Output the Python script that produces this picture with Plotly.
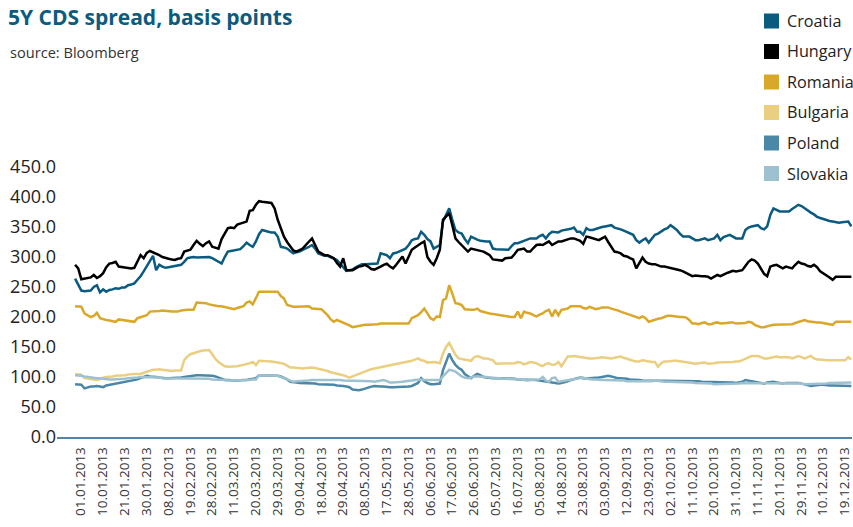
import plotly.graph_objects as go

countries = ["Croatia", "Hungary", "Romania", "Bulgaria", "Poland", "Slovakia"]
colors = ["#0b5b80", "#000000", "#d9a82a", "#eacf80", "#4b87a6", "#9ec1d0"]

tick_labels = ["01.01.2013", "10.01.2013", "21.01.2013", "30.01.2013", "08.02.2013", "19.02.2013",
               "28.02.2013", "11.03.2013", "20.03.2013", "29.03.2013", "09.04.2013", "18.04.2013",
               "29.04.2013", "08.05.2013", "17.05.2013", "28.05.2013", "06.06.2013", "17.06.2013",
               "26.06.2013", "05.07.2013", "16.07.2013", "05.08.2013", "14.08.2013", "23.08.2013",
               "03.09.2013", "12.09.2013", "23.09.2013", "02.10.2013", "11.10.2013", "20.10.2013",
               "31.10.2013", "11.11.2013", "20.11.2013", "29.11.2013", "10.12.2013", "19.12.2013"]

croatia = [264, 253, 244, 243, 244, 244, 250, 253, 241, 246,
           242, 245, 246, 248, 247, 249, 249, 253, 254, 256,
           262, 268, 276, 284, 293, 302, 278, 287, 284, 282,
           283, 284, 284, 286, 287, 292, 298, 299, 300, 299,
           299, 300, 300, 300, 298, 295, 292, 289, 300, 309,
           310, 311, 312, 313, 318, 324, 320, 317, 326, 338,
           345, 343, 342, 341, 341, 334, 317, 316, 314, 310,
           306, 308, 309, 312, 314, 317, 320, 314, 306, 304,
           302, 302, 300, 298, 295, 289, 283, 277, 278, 279,
           283, 286, 288, 288, 288, 288, 289, 289, 306, 304,
           303, 298, 306, 307, 309, 311, 314, 320, 328, 330,
           331, 342, 337, 330, 326, 314, 317, 320, 359, 370,
           381, 362, 345, 341, 339, 330, 323, 334, 331, 329,
           327, 326, 326, 326, 314, 313, 313, 313, 312, 312,
           318, 323, 323, 325, 326, 328, 331, 331, 331, 335,
           337, 331, 338, 342, 342, 341, 344, 345, 345, 347,
           349, 342, 342, 337, 348, 345, 345, 347, 348, 350,
           351, 352, 353, 349, 348, 346, 344, 342, 340, 337,
           328, 324, 328, 331, 324, 330, 337, 339, 343, 346,
           348, 353, 349, 345, 339, 334, 334, 334, 331, 328,
           328, 330, 331, 328, 330, 331, 337, 328, 333, 335,
           337, 334, 331, 331, 331, 345, 349, 351, 352, 353,
           348, 346, 351, 370, 381, 379, 376, 376, 376, 376,
           380, 384, 387, 385, 381, 378, 374, 371, 367, 365,
           363, 361, 360, 359, 358, 357, 358, 359, 359, 351]

hungary = [287, 281, 263, 264, 265, 266, 270, 265, 268, 273,
           283, 289, 290, 292, 284, 283, 282, 281, 281, 282,
           292, 303, 298, 307, 310, 308, 306, 303, 300, 298,
           297, 296, 295, 297, 298, 309, 310, 312, 320, 327,
           322, 318, 323, 326, 317, 315, 314, 330, 338, 348,
           349, 348, 354, 356, 357, 359, 377, 378, 387, 393,
           392, 391, 390, 390, 381, 362, 348, 334, 325, 317,
           311, 309, 312, 314, 320, 326, 331, 320, 309, 306,
           303, 303, 300, 298, 290, 284, 298, 278, 278, 278,
           281, 284, 285, 287, 284, 280, 279, 281, 284, 287,
           289, 284, 281, 287, 295, 301, 289, 300, 312, 316,
           320, 323, 326, 300, 292, 287, 298, 312, 362, 368,
           373, 353, 331, 325, 320, 315, 309, 314, 313, 312,
           310, 309, 306, 303, 296, 295, 294, 294, 298, 299,
           299, 305, 312, 313, 314, 309, 309, 315, 320, 321,
           320, 323, 326, 320, 323, 326, 326, 328, 330, 331,
           331, 329, 327, 322, 334, 333, 331, 330, 328, 331,
           334, 325, 317, 309, 308, 306, 302, 301, 298, 296,
           281, 290, 299, 292, 289, 288, 288, 286, 284, 284,
           283, 282, 281, 280, 278, 276, 273, 271, 268, 269,
           268, 268, 268, 267, 264, 267, 270, 268, 271, 273,
           275, 277, 276, 277, 278, 285, 292, 296, 294, 289,
           281, 272, 268, 284, 286, 287, 284, 281, 284, 282,
           281, 287, 292, 289, 288, 285, 284, 287, 283, 276,
           273, 270, 266, 262, 267, 267, 267, 267, 267, 267]

romania = [218, 217, 217, 206, 203, 200, 202, 207, 198, 196,
           195, 194, 193, 192, 196, 195, 195, 193, 192, 192,
           198, 200, 202, 203, 209, 209, 209, 210, 211, 210,
           209, 209, 209, 209, 211, 212, 212, 212, 212, 224,
           224, 224, 223, 221, 220, 218, 218, 218, 217, 216,
           214, 213, 215, 217, 218, 224, 226, 221, 231, 242,
           242, 242, 242, 242, 242, 242, 235, 231, 220, 218,
           217, 217, 217, 218, 218, 218, 214, 214, 213, 213,
           208, 203, 196, 192, 195, 193, 190, 189, 186, 183,
           184, 186, 187, 187, 187, 187, 188, 188, 189, 189,
           188, 188, 189, 189, 189, 189, 189, 189, 198, 200,
           203, 208, 214, 206, 198, 195, 201, 200, 228, 231,
           253, 239, 223, 222, 220, 213, 212, 212, 212, 214,
           210, 208, 207, 206, 205, 205, 203, 202, 201, 201,
           200, 200, 209, 198, 209, 207, 206, 203, 201, 204,
           206, 210, 212, 201, 212, 203, 212, 213, 214, 218,
           218, 218, 218, 215, 214, 217, 215, 213, 214, 216,
           216, 216, 214, 213, 211, 209, 207, 205, 203, 201,
           200, 198, 201, 198, 192, 194, 195, 197, 198, 200,
           202, 202, 201, 201, 200, 200, 199, 195, 189, 189,
           188, 190, 191, 188, 188, 190, 191, 189, 189, 190,
           191, 191, 189, 189, 190, 190, 192, 191, 187, 185,
           183, 183, 185, 186, 187, 187, 188, 188, 187, 187,
           188, 190, 192, 194, 195, 193, 192, 192, 191, 191,
           190, 189, 188, 187, 192, 192, 192, 192, 192, 192]

bulgaria = [105, 105, 104, 98, 97, 96, 96, 95, 96, 99,
            100, 100, 101, 102, 102, 103, 103, 104, 105, 105,
            105, 105, 107, 109, 111, 112, 112, 113, 112, 111,
            111, 110, 111, 111, 111, 128, 134, 138, 140, 142,
            143, 144, 145, 145, 138, 130, 125, 121, 118, 117,
            117, 118, 118, 119, 120, 121, 123, 125, 120, 127,
            127, 126, 126, 126, 125, 124, 123, 122, 119, 116,
            116, 115, 114, 114, 115, 116, 116, 115, 114, 113,
            112, 110, 108, 107, 106, 104, 103, 101, 99, 101,
            103, 106, 107, 110, 112, 113, 114, 115, 116, 117,
            118, 119, 120, 121, 122, 123, 124, 126, 127, 129,
            131, 128, 127, 124, 125, 125, 124, 123, 139, 150,
            157, 148, 137, 131, 130, 129, 128, 127, 133, 135,
            133, 131, 131, 129, 128, 122, 122, 122, 122, 122,
            123, 123, 125, 124, 121, 123, 125, 124, 123, 120,
            118, 122, 123, 120, 121, 125, 118, 126, 134, 134,
            135, 134, 133, 132, 131, 131, 131, 131, 132, 133,
            132, 131, 131, 132, 133, 134, 132, 130, 129, 127,
            126, 126, 128, 127, 125, 125, 125, 117, 123, 126,
            126, 127, 127, 127, 126, 126, 125, 124, 123, 122,
            123, 124, 124, 122, 122, 123, 124, 124, 125, 125,
            125, 125, 126, 126, 128, 130, 133, 135, 135, 135,
            133, 131, 131, 132, 134, 134, 133, 133, 134, 133,
            131, 133, 135, 133, 131, 133, 135, 131, 129, 129,
            128, 128, 128, 128, 128, 128, 128, 128, 133, 129]

poland = [88, 88, 87, 81, 83, 84, 84, 85, 84, 83,
          86, 87, 88, 89, 89, 90, 91, 92, 93, 94,
          96, 98, 100, 102, 101, 101, 100, 99, 98, 98,
          98, 98, 98, 98, 99, 100, 101, 102, 103, 103,
          103, 103, 103, 103, 102, 101, 99, 97, 95, 95,
          94, 94, 94, 95, 95, 95, 96, 96, 98, 103,
          103, 103, 103, 103, 103, 102, 101, 99, 96, 92,
          92, 91, 90, 90, 90, 89, 89, 89, 88, 88,
          87, 87, 87, 87, 86, 86, 85, 84, 83, 79,
          78, 78, 79, 81, 83, 84, 85, 84, 84, 84,
          83, 83, 83, 83, 83, 83, 83, 84, 85, 87,
          90, 98, 93, 90, 88, 88, 89, 89, 111, 125,
          139, 128, 120, 115, 112, 105, 102, 98, 102, 105,
          103, 100, 99, 98, 98, 98, 98, 98, 98, 97,
          97, 97, 96, 96, 96, 96, 96, 95, 95, 94,
          93, 92, 91, 90, 89, 89, 90, 91, 93, 95,
          96, 98, 99, 98, 97, 98, 98, 99, 99, 100,
          101, 102, 101, 99, 98, 98, 98, 97, 96, 96,
          95, 95, 94, 94, 94, 94, 94, 94, 94, 94,
          94, 94, 94, 94, 94, 94, 94, 94, 93, 93,
          93, 92, 92, 92, 92, 92, 92, 92, 91, 91,
          91, 91, 90, 91, 92, 95, 94, 92, 91, 90,
          90, 89, 91, 92, 92, 91, 90, 89, 90, 90,
          90, 91, 90, 89, 88, 86, 85, 86, 87, 87,
          87, 86, 86, 86, 86, 86, 86, 86, 85, 85]

slovakia = [103, 103, 102, 101, 100, 100, 99, 98, 98, 97,
            96, 96, 96, 96, 96, 96, 97, 98, 98, 99,
            99, 100, 100, 100, 100, 100, 99, 99, 98, 98,
            98, 98, 98, 98, 98, 98, 98, 98, 98, 98,
            98, 98, 98, 97, 96, 96, 95, 95, 95, 94,
            94, 94, 94, 94, 95, 95, 95, 96, 96, 103,
            103, 103, 103, 103, 103, 102, 100, 98, 97, 95,
            92, 93, 93, 94, 94, 94, 95, 95, 95, 95,
            96, 96, 96, 96, 95, 95, 94, 94, 94, 94,
            94, 94, 94, 93, 93, 93, 92, 93, 94, 95,
            93, 91, 91, 91, 92, 92, 93, 93, 94, 95,
            96, 96, 95, 95, 95, 95, 95, 95, 101, 106,
            112, 111, 109, 105, 101, 99, 98, 99, 101, 101,
            101, 100, 100, 99, 99, 98, 98, 97, 97, 97,
            96, 96, 96, 96, 95, 94, 95, 95, 96, 96,
            100, 94, 92, 98, 99, 92, 93, 94, 95, 95,
            96, 97, 98, 99, 97, 96, 96, 96, 95, 95,
            95, 95, 94, 94, 94, 94, 94, 93, 93, 93,
            92, 92, 92, 93, 93, 93, 94, 93, 92, 92,
            92, 92, 92, 91, 91, 91, 91, 91, 91, 90,
            90, 90, 89, 89, 89, 88, 88, 88, 89, 89,
            89, 89, 89, 89, 90, 90, 90, 90, 90, 90,
            90, 89, 89, 89, 89, 89, 89, 89, 89, 89,
            89, 89, 89, 89, 88, 88, 88, 88, 88, 89,
            89, 89, 90, 90, 90, 90, 91, 91, 91, 91]

series = [croatia, hungary, romania, bulgaria, poland, slovakia]
FONT = "Open Sans"

W, H = 853, 527
L, R, T, B = 57, 1, 167, 90
PW, PH = W - L - R, H - T - B


def px_x(px):
    return (px - L) / PW


def px_y(py):
    return (H - B - py) / PH


fig = go.Figure()
for name, vals, col in zip(countries, series, colors):
    fig.add_trace(go.Scatter(x=list(range(len(vals))), y=vals, mode="lines", name=name,
                             line=dict(color=col, width=2.5)))

# legend: coloured squares with names, top right
shapes = []
annotations = [dict(text="source: Bloomberg", xref="paper", yref="paper",
                    x=px_x(8), y=px_y(52), xanchor="left", yanchor="middle",
                    showarrow=False, font=dict(family=FONT, size=14.6, color="#333333"))]
for k, (name, col) in enumerate(zip(countries, colors)):
    yc = 21 + k * 30.5
    shapes.append(dict(type="rect", xref="paper", yref="paper",
                       x0=px_x(764), x1=px_x(779), y0=px_y(yc - 7.5), y1=px_y(yc + 7.5),
                       fillcolor=col, line=dict(width=0)))
    annotations.append(dict(text=name, xref="paper", yref="paper", x=px_x(785), y=px_y(yc),
                            xanchor="left", yanchor="middle", showarrow=False,
                            font=dict(family=FONT, size=16.2, color="#222222")))

fig.update_layout(
    width=W, height=H,
    margin=dict(l=L, r=R, t=T, b=B, autoexpand=False),
    paper_bgcolor="white", plot_bgcolor="white",
    font=dict(family=FONT, color="#222222"),
    title=dict(text="<b>5Y CDS spread, basis points</b>", x=8 / W, xanchor="left",
               xref="container", yref="container", y=1 - 18 / H, yanchor="middle",
               font=dict(family=FONT, size=21, color="#0b5b80")),
    annotations=annotations,
    shapes=shapes,
    showlegend=False,
)
fig.update_xaxes(range=[-5.8, 249.2], tickvals=[7 * k for k in range(len(tick_labels))],
                 ticktext=tick_labels, tickangle=-90, showgrid=False, zeroline=False,
                 showline=True, linecolor="#5585a6", linewidth=1.5, ticks="",
                 ticklabelshift=6, ticklabelstandoff=3, ticklabeloverflow="allow",
                 tickfont=dict(family=FONT, size=13.5, color="#333333"), automargin=False)
fig.update_yaxes(range=[0, 450], tickvals=[0, 50, 100, 150, 200, 250, 300, 350, 400, 450],
                 tickformat=".1f", showgrid=False, zeroline=False, showline=False, ticks="",
                 tickfont=dict(family=FONT, size=18, color="#222222"), automargin=False)

# the page's default 8px body margin would shift the fixed-size figure out of the window
fig.write_html("out.html", config={"displayModeBar": False},
               post_script="document.body.style.margin = '0';")
